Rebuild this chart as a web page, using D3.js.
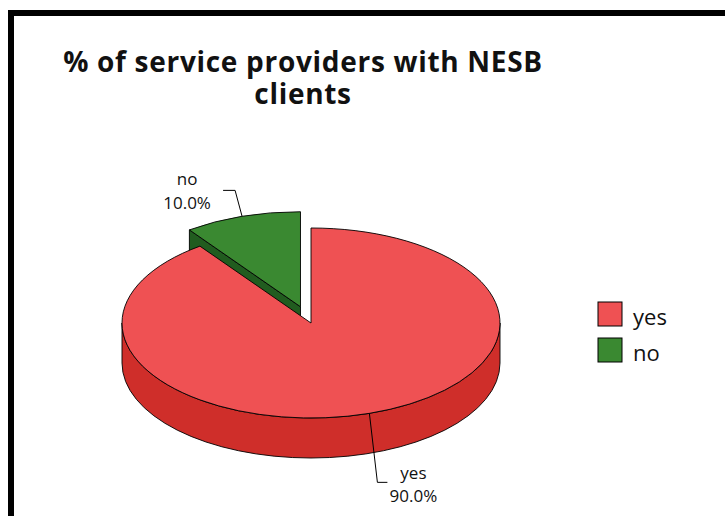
<!DOCTYPE html>
<html>
<head>
<meta charset="utf-8">
<script src="https://cdn.jsdelivr.net/npm/d3@7/dist/d3.min.js"></script>
<style>
  html, body { margin: 0; padding: 0; background: #fff; }
  svg { display: block; }
  text { font-family: "Open Sans", "Noto Sans", sans-serif; fill: #111; }
</style>
</head>
<body>
<svg id="chart" width="725" height="516"></svg>
<script>
// Survey result: share of service providers with NESB clients
const categories = ["yes", "no"];
const values = [90.0, 10.0];
const titleLines = ["% of service providers with NESB", "clients"];

// Fill colours per category: top face and darker side walls
const topColors = ["#ef5153", "#3a8931"];
const sideColors = ["#cf2e2a", "#215c1f"];
const explodeBy = [0, 0.18];

const W = 725, H = 516;
const svg = d3.select("#chart");

// Frame around the chart area
svg.append("rect")
  .attr("x", 11).attr("y", 13)
  .attr("width", W + 20).attr("height", H + 20)
  .attr("fill", "none").attr("stroke", "#000").attr("stroke-width", 6);

// Title
svg.append("text")
  .attr("text-anchor", "middle")
  .attr("font-weight", "bold")
  .attr("font-size", 28)
  .attr("letter-spacing", 0.7)
  .selectAll("tspan").data(titleLines).join("tspan")
  .attr("x", 303)
  .attr("y", (d, i) => 72 + i * 32)
  .text(d => d);

// 3D pie geometry
const cx = 311, cy = 323, rx = 189, ry = 95, depth = 40;
const pie = d3.pie().sort(null).value(d => d.value);
const rows = categories.map((c, i) => ({ name: c, value: values[i], idx: i }));
const arcs = pie(rows);
const total = d3.sum(values);

function pt(a, ox, oy, dy = 0) {
  return [ox + rx * Math.sin(a), oy - ry * Math.cos(a) + dy];
}

function sliceOrigin(d) {
  const mid = (d.startAngle + d.endAngle) / 2;
  const e = explodeBy[d.data.idx];
  return [cx + e * rx * Math.sin(mid), cy - e * ry * Math.cos(mid)];
}

function topPath(d) {
  const [ox, oy] = sliceOrigin(d);
  const p0 = pt(d.startAngle, ox, oy), p1 = pt(d.endAngle, ox, oy);
  const large = d.endAngle - d.startAngle > Math.PI ? 1 : 0;
  return `M${ox},${oy}L${p0}A${rx},${ry} 0 ${large} 1 ${p1}Z`;
}

function outerWallPath(d) {
  const [ox, oy] = sliceOrigin(d);
  const s = Math.max(d.startAngle, Math.PI / 2);
  const e = Math.min(d.endAngle, 3 * Math.PI / 2);
  if (e <= s) return null;
  const a = pt(s, ox, oy), b = pt(e, ox, oy);
  const bd = pt(e, ox, oy, depth), ad = pt(s, ox, oy, depth);
  const large = e - s > Math.PI ? 1 : 0;
  return `M${a}A${rx},${ry} 0 ${large} 1 ${b}L${bd}A${rx},${ry} 0 ${large} 0 ${ad}Z`;
}

function radialWallPath(d, a, normal) {
  if (Math.cos(normal) > -1e-6) return null; // faces away or edge-on
  const [ox, oy] = sliceOrigin(d);
  const p = pt(a, ox, oy), pd = pt(a, ox, oy, depth);
  return `M${ox},${oy}L${p}L${pd}L${ox},${oy + depth}Z`;
}

const pieG = svg.append("g");
// Back slices first so the front slice covers them
const drawOrder = arcs.slice().sort((a, b) =>
  Math.cos((b.startAngle + b.endAngle) / 2) - Math.cos((a.startAngle + a.endAngle) / 2));

drawOrder.forEach(d => {
  const g = pieG.append("g");
  const side = sideColors[d.data.idx], top = topColors[d.data.idx];
  const walls = [
    radialWallPath(d, d.startAngle, d.startAngle - Math.PI / 2),
    radialWallPath(d, d.endAngle, d.endAngle + Math.PI / 2),
    outerWallPath(d)
  ].filter(Boolean);
  walls.forEach(p => g.append("path").attr("d", p)
    .attr("fill", side).attr("stroke", "#000").attr("stroke-width", 0.9)
    .attr("stroke-linejoin", "round"));
  g.append("path").attr("d", topPath(d))
    .attr("fill", top).attr("stroke", "#000").attr("stroke-width", 0.9)
    .attr("stroke-linejoin", "round");
});

// Leader lines and slice labels
const fmt = d3.format(".1%");
const labelLayout = {
  yes: { elbow: [8, 69], tail: 10, text: [44, 66], lineGap: 23 },
  no:  { elbow: [-7, -26], tail: -12, text: [-55, -31], lineGap: 24 }
};
arcs.forEach(d => {
  const L = labelLayout[d.data.name];
  const [ox, oy] = sliceOrigin(d);
  const mid = (d.startAngle + d.endAngle) / 2;
  const s = pt(mid, ox, oy);
  const e = [s[0] + L.elbow[0], s[1] + L.elbow[1]];
  const t = [e[0] + L.tail, e[1]];
  svg.append("path")
    .attr("d", `M${s}L${e}L${t}`)
    .attr("fill", "none").attr("stroke", "#000").attr("stroke-width", 1);
  svg.append("text")
    .attr("text-anchor", "middle")
    .attr("font-size", 17)
    .selectAll("tspan").data([d.data.name, fmt(d.data.value / total)]).join("tspan")
    .attr("x", s[0] + L.text[0])
    .attr("y", (v, i) => s[1] + L.text[1] + i * L.lineGap)
    .text(v => v);
});

// Legend
const legend = svg.append("g").attr("transform", "translate(598,302)");
const items = legend.selectAll("g").data(categories).join("g")
  .attr("transform", (d, i) => `translate(0,${i * 36})`);
items.append("rect")
  .attr("width", 24).attr("height", 24)
  .attr("fill", (d, i) => topColors[i])
  .attr("stroke", "#000").attr("stroke-width", 1);
items.append("text")
  .attr("x", 35).attr("y", 23)
  .attr("font-size", 22)
  .text(d => d);
</script>
</body>
</html>
